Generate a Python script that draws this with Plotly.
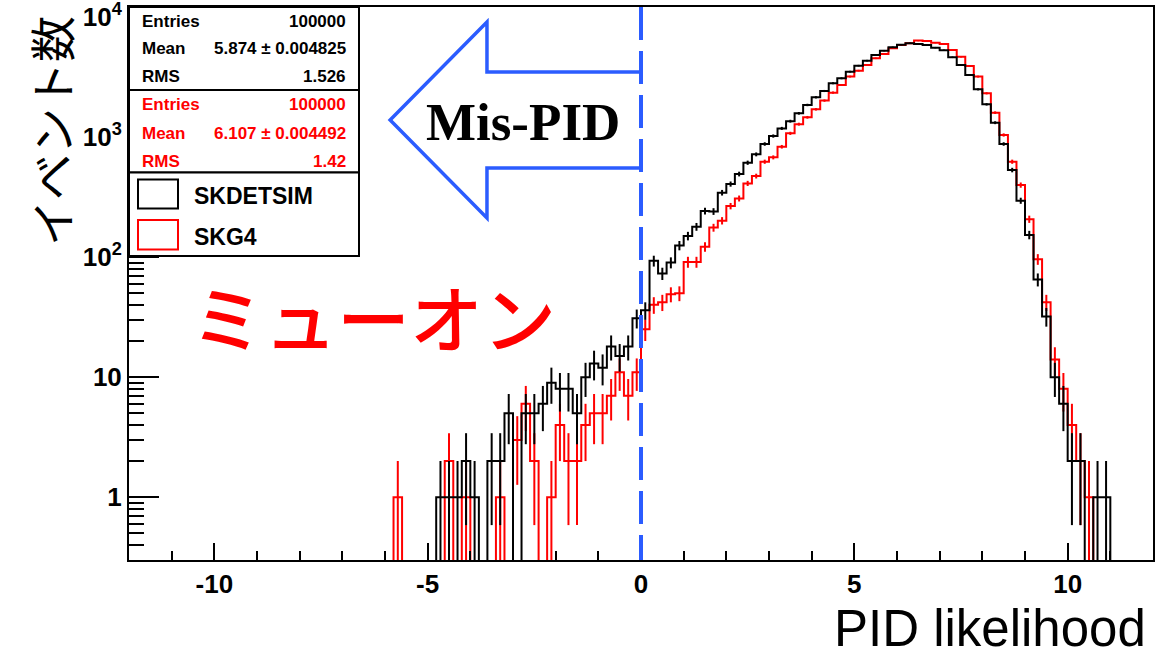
import numpy as np
import plotly.graph_objects as go

# ---------------- data ----------------
bin_width = 0.2
first_bin_low = -6.0          # bins run from -6.0 to 11.2 (86 bins)

skdetsim_counts = [
    0, 0, 0, 0, 0, 0, 1, 1, 1, 2, 1, 0, 2, 2, 5, 0, 5, 5, 6, 9,
    8, 8, 5, 10, 13, 12, 18, 15, 18, 31,
    36, 93, 73, 90, 125, 150, 179, 242, 240, 344,
    406, 492, 611, 717, 875, 1019, 1180, 1355, 1575, 1849,
    2142, 2417, 2799, 3083, 3501, 3928, 4325, 4822, 5236, 5587,
    5875, 6035, 5960, 5850, 5550, 5280, 4615, 3980, 3288, 2495,
    1871, 1316, 875, 531, 295, 153, 65, 32, 10, 6,
    2, 2, 0, 1, 1, 0,
]
skg4_counts = [
    0, 1, 0, 0, 0, 0, 0, 2, 0, 1, 0, 0, 0, 1, 0, 3, 6, 2, 0, 1,
    4, 2, 2, 4, 5, 5, 7, 11, 7, 11,
    25, 40, 42, 49, 50, 91, 91, 122, 176, 201,
    266, 308, 411, 473, 623, 677, 830, 1073, 1280, 1459,
    1702, 2010, 2340, 2710, 3185, 3570, 3980, 4525, 4920, 5480,
    5840, 6035, 6350, 6300, 6110, 5960, 5310, 4670, 3908, 3185,
    2312, 1595, 1040, 623, 398, 207, 96, 42, 14, 8,
    4, 2, 1, 0, 0, 0,
]

series_names = ["SKDETSIM", "SKG4"]
series_colors = ["#000000", "#ff0000"]
stats_rows = [
    [("Entries", "100000"), ("Mean", "5.874 \u00b1 0.004825"), ("RMS", "1.526")],
    [("Entries", "100000"), ("Mean", "6.107 \u00b1 0.004492"), ("RMS", "1.42")],
]

x_tick_vals = [-10, -5, 0, 5, 10]
x_tick_text = ["-10", "-5", "0", "5", "10"]
x_minor_vals = [v for v in range(-12, 13) if v % 5 != 0]
y_tick_vals = [1, 10, 100, 1000, 10000]
y_tick_text = ["1", "10", "10<sup>2</sup>", "10<sup>3</sup>", "10<sup>4</sup>"]
y_minor_vals = [m * 10 ** d for d in range(-1, 5) for m in range(2, 10)
                if 0.35 < m * 10 ** d < 12000]

x_range = [-12, 12]
y_min, y_max = 0.3, 12100

FLOOR = 1e-3  # empty bins drop below the axis (clipped) like ROOT on log scale


def step_xy(counts):
    edges = first_bin_low + bin_width * np.arange(len(counts) + 1)
    ys = [c if c > 0 else FLOOR for c in counts]
    return list(edges), ys + [ys[-1]]


def err_xy(counts):
    xs, ys = [], []
    for i, c in enumerate(counts):
        if c > 0:
            cx = first_bin_low + bin_width * (i + 0.5)
            e = np.sqrt(c)
            xs += [cx, cx, None]
            ys += [max(c - e, FLOOR), c + e, None]
    return xs, ys


fig = go.Figure()
# red first, black on top
for counts, color in [(skg4_counts, series_colors[1]), (skdetsim_counts, series_colors[0])]:
    sx, sy = step_xy(counts)
    fig.add_trace(go.Scatter(x=sx, y=sy, mode="lines", line=dict(color=color, width=2, shape="hv"),
                             hoverinfo="skip"))
    ex, ey = err_xy(counts)
    fig.add_trace(go.Scatter(x=ex, y=ey, mode="lines", line=dict(color=color, width=2),
                             hoverinfo="skip"))

FAM = "Liberation Sans, Arial, sans-serif"
BOLD = dict(family=FAM, color="black", weight="bold")

fig.update_layout(
    width=1175, height=652,
    margin=dict(l=129, r=22, t=7, b=92, autoexpand=False),
    paper_bgcolor="white", plot_bgcolor="white",
    showlegend=False,
    xaxis=dict(
        range=x_range, showgrid=False, zeroline=False, automargin=False,
        showline=True, linecolor="black", linewidth=2, mirror=True,
        ticks="inside", ticklen=17, tickwidth=2, tickcolor="black",
        tickmode="array", tickvals=x_tick_vals, ticktext=x_tick_text,
        tickfont=dict(size=26, **BOLD), ticklabeloverflow="allow",
        minor=dict(tickmode="array", tickvals=x_minor_vals, ticks="inside",
                   ticklen=9, tickwidth=2, tickcolor="black"),
    ),
    yaxis=dict(
        type="log", range=[np.log10(y_min), np.log10(y_max)],
        showgrid=False, zeroline=False, automargin=False,
        showline=True, linecolor="black", linewidth=2, mirror=True,
        ticks="inside", ticklen=30, tickwidth=2, tickcolor="black",
        tickmode="array", tickvals=y_tick_vals, ticktext=y_tick_text,
        tickfont=dict(size=26, **BOLD), ticklabeloverflow="allow",
        minor=dict(tickmode="array", tickvals=y_minor_vals, ticks="inside",
                   ticklen=15, tickwidth=2, tickcolor="black"),
    ),
)


def px2paper(px, py):
    return (px - 129) / 1024.0, (560 - py) / 553.0


def ay(py):
    return (560 - py) / 553.0


shapes = []
annotations = []

# blue dashed vertical line at PID = 0 (drawn top -> bottom)
shapes.append(dict(type="line", xref="x", yref="paper", x0=0, x1=0, y0=1, y1=0,
                   line=dict(color="#2b5cff", width=4, dash="33px,11px")))

# blue outline arrow (open on the right side, which is the dashed line)
arrow_pts = [(0.0, ay(72)), (-3.61, ay(72)), (-3.61, ay(22)), (-5.88, ay(120)),
             (-3.61, ay(218)), (-3.61, ay(168)), (0.0, ay(168))]
path = "M " + " L ".join(f"{x},{y}" for x, y in arrow_pts)
shapes.append(dict(type="path", xref="x", yref="paper", path=path,
                   line=dict(color="#2b5cff", width=3.5)))
annotations.append(dict(xref="x", yref="paper", x=-2.77, y=ay(122), text="<b>Mis-PID</b>",
                        showarrow=False, xanchor="center", yanchor="middle",
                        font=dict(family="Liberation Serif, Times New Roman, serif", size=53,
                                  color="black")))

# stats boxes + legend box
box_edges_py = [7, 90, 172.6, 256]
for i in range(3):
    x0, y0 = px2paper(129, box_edges_py[i + 1])
    x1, y1 = px2paper(359, box_edges_py[i])
    shapes.append(dict(type="rect", xref="paper", yref="paper", x0=x0, x1=x1, y0=y0, y1=y1,
                       line=dict(color="black", width=2), fillcolor="white", layer="above"))

row_py = [[21.7, 48.5, 76.5], [105, 133, 161.5]]
for s in range(2):
    col = series_colors[s]
    for r, (lab, val) in enumerate(stats_rows[s]):
        lx, ly = px2paper(140, row_py[s][r])
        rx, _ = px2paper(348, row_py[s][r])
        annotations.append(dict(xref="paper", yref="paper", x=lx, y=ly, text=lab, showarrow=False,
                                xanchor="left", yanchor="middle",
                                font=dict(family=FAM, weight="bold", size=17, color=col)))
        annotations.append(dict(xref="paper", yref="paper", x=rx, y=ly, text=val, showarrow=False,
                                xanchor="right", yanchor="middle",
                                font=dict(family=FAM, weight="bold", size=17, color=col)))

leg_box_py = [(179.5, 208.5), (220, 249.5)]
leg_text_py = [195.5, 236.5]
for s in range(2):
    x0, y0 = px2paper(138, leg_box_py[s][1])
    x1, y1 = px2paper(178, leg_box_py[s][0])
    shapes.append(dict(type="rect", xref="paper", yref="paper", x0=x0, x1=x1, y0=y0, y1=y1,
                       line=dict(color=series_colors[s], width=2), fillcolor="white", layer="above"))
    tx, ty = px2paper(192, leg_text_py[s])
    annotations.append(dict(xref="paper", yref="paper", x=tx, y=ty, text=series_names[s],
                            showarrow=False, xanchor="left", yanchor="middle",
                            font=dict(family=FAM, weight="bold", size=23, color="black")))

# red muon label
mx, my = px2paper(373, 315)
annotations.append(dict(xref="paper", yref="paper", x=mx, y=my, text="ミューオン", showarrow=False,
                        xanchor="center", yanchor="middle",
                        font=dict(family="Noto Sans CJK JP", size=73, weight=500, color="#ff0000")))

# axis titles
tx, ty = px2paper(50, 131)
annotations.append(dict(xref="paper", yref="paper", x=tx, y=ty, text="イベント数", showarrow=False,
                        textangle=-90, xanchor="center", yanchor="middle",
                        font=dict(family="Noto Sans CJK JP", size=46, color="black")))
tx, ty = px2paper(1148, 628)
annotations.append(dict(xref="paper", yref="paper", x=tx, y=ty, text="PID likelihood", showarrow=False,
                        xanchor="right", yanchor="middle",
                        font=dict(family=FAM, size=51, color="black")))

fig.update_layout(shapes=shapes, annotations=annotations)
fig.write_html("out.html")
